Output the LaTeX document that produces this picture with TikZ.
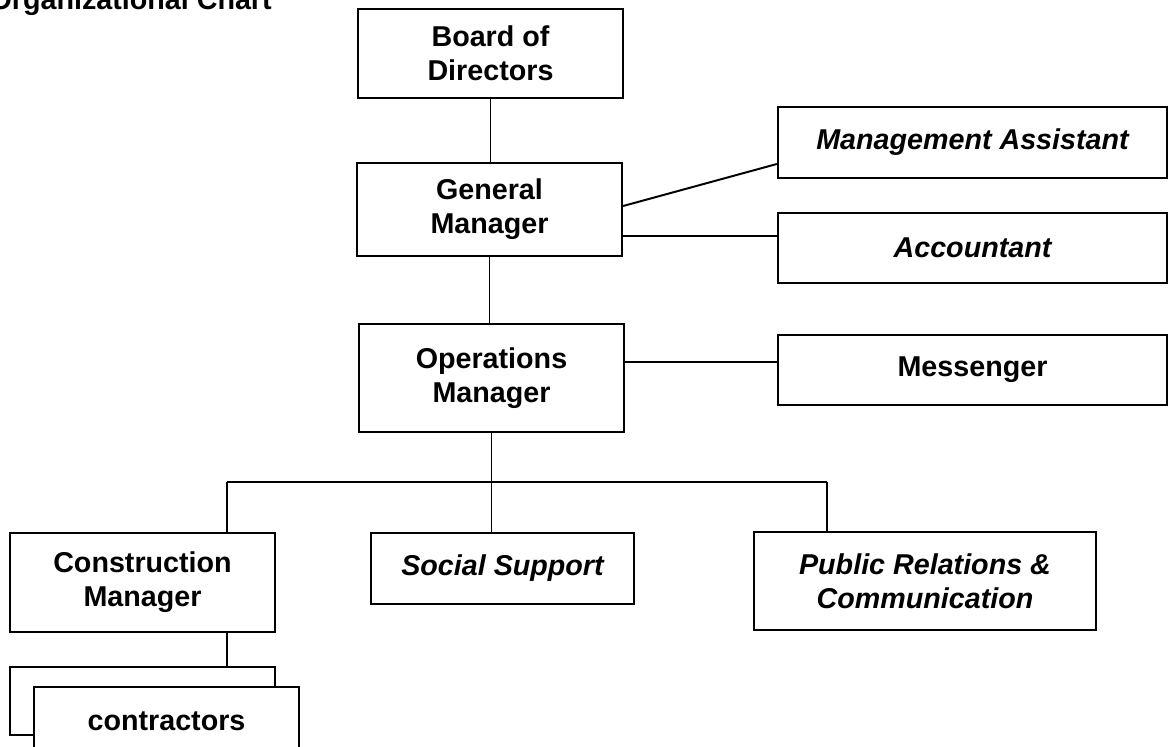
\documentclass[tikz,border=0pt]{standalone}
\usepackage{fontspec}
\setmainfont{Liberation Sans}
\usetikzlibrary{positioning, calc}

\newcommand{\orgfont}{\fontsize{20.4}{24.2}\selectfont}
\tikzset{
  box/.style={draw, line width=1.6pt, fill=white, align=center, inner sep=0pt, font=\bfseries\orgfont},
  ibox/.style={box, font=\bfseries\itshape\orgfont},
  link/.style={line width=1.4pt}
}

\begin{document}
\begin{tikzpicture}[x=0.025cm, y=-0.025cm]
  \useasboundingbox (0,0) rectangle (1170,747);
  \clip (0,0) rectangle (1170,747);

  % Title
  \node[anchor=base east, inner sep=0pt, font=\bfseries\orgfont] (title) at (272,10) {Organizational Chart};

  % Top of the chart
  \node[box, minimum width=6.625cm, minimum height=2.225cm] (board) at (490.5,53.5) {Board of\\Directors};
  \node[box, minimum width=6.625cm, minimum height=2.325cm] (gm) at (489.5,209.5) {General\\Manager};
  \node[box, minimum width=6.625cm, minimum height=2.7cm] (om) at (491.5,378) {Operations\\Manager};

  % Staff on the right
  \node[ibox, minimum width=9.725cm, minimum height=1.775cm] (assist) at (972.5,142.5) {Management Assistant};
  \node[ibox, minimum width=9.725cm, minimum height=1.75cm] (account) at (972.5,248) {Accountant};
  \node[box, minimum width=9.725cm, minimum height=1.75cm] (mess) at (972.5,370) {Messenger};

  % Departments
  \node[box, minimum width=6.625cm, minimum height=2.475cm] (cm) at (142.5,582.5) {Construction\\Manager};
  \node[ibox, minimum width=6.575cm, minimum height=1.775cm] (social) at (502.5,568.5) {Social Support};
  \node[ibox, minimum width=8.55cm, minimum height=2.45cm] (pr) at (925,581) {Public Relations \&\\Communication};

  % Contractors (stacked)
  \node[box, minimum width=6.625cm, minimum height=1.7cm] (con1) at (142.5,701) {};
  \node[box, minimum width=6.625cm, minimum height=1.7cm] (con2) at (166.5,721) {contractors};

  % Lines
  \draw[link] (board.south) -- (board.south |- gm.north);
  \draw[link] (gm.south) -- (gm.south |- om.north);
  \draw[link] ($(gm.east)+(0,-3.5)$) -- ($(assist.west)+(0,21.5)$);
  \draw[link] ($(gm.east)+(0,26.5)$) coordinate (gmacc) -- (gmacc -| account.west);
  \draw[link] ($(om.east)+(0,-16)$) coordinate (ommess) -- (ommess -| mess.west);

  \coordinate (busL) at (227,482);
  \coordinate (busR) at (827,482);
  \draw[link] (om.south) -- (om.south |- social.north);
  \draw[link] (busL) -- (busR);
  \draw[link] (busL) -- (busL |- cm.north);
  \draw[link] (busR) -- (busR |- pr.north);
  \draw[link] (busL |- cm.south) -- (busL |- con1.north);

\end{tikzpicture}
\end{document}
